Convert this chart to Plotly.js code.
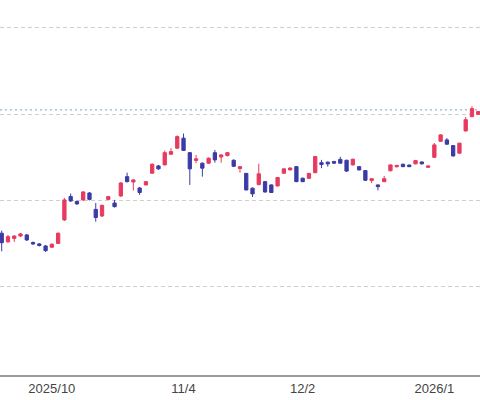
<!DOCTYPE html>
<html>
<head>
<meta charset="utf-8">
<script src="https://cdn.plot.ly/plotly-3.0.1.min.js"></script>
<style>html,body{margin:0;padding:0;background:#fff;}#chart{width:480px;height:400px;}</style>
</head>
<body>
<div id="chart"></div>
<script>
const dates = ['2025-09-19','2025-09-22','2025-09-24','2025-09-25','2025-09-26','2025-09-29','2025-09-30',
'2025-10-01','2025-10-02','2025-10-03','2025-10-06','2025-10-07','2025-10-08','2025-10-09','2025-10-10','2025-10-14','2025-10-15','2025-10-16','2025-10-17','2025-10-20','2025-10-21','2025-10-22','2025-10-23','2025-10-24','2025-10-27','2025-10-28','2025-10-29','2025-10-30','2025-10-31',
'2025-11-04','2025-11-05','2025-11-06','2025-11-07','2025-11-10','2025-11-11','2025-11-12','2025-11-13','2025-11-14','2025-11-17','2025-11-18','2025-11-19','2025-11-20','2025-11-21','2025-11-25','2025-11-26','2025-11-27','2025-11-28',
'2025-12-01','2025-12-02','2025-12-03','2025-12-04','2025-12-05','2025-12-08','2025-12-09','2025-12-10','2025-12-11','2025-12-12','2025-12-15','2025-12-16','2025-12-17','2025-12-18','2025-12-19','2025-12-22','2025-12-23','2025-12-24','2025-12-25','2025-12-26','2025-12-29','2025-12-30',
'2026-01-05','2026-01-06','2026-01-07','2026-01-08','2026-01-09','2026-01-13','2026-01-14','2026-01-15'];

const openV  = [3310,3260,3280,3294,3300,3256,3248, 3236,3229,3251,3387,3523,3494,3503,3543,3448,3410,3506,3485,3526,3638,3607,3572,3590,3658,3700,3706,3768,3803,
 3861,3777,3732,3716,3716,3777,3752,3760,3733,3685,3657,3571,3592,3609,3590,3584,3658,3677,
 3696,3629,3628,3661,3719,3722,3726,3738,3733,3706,3696,3673,3615,3590,3609,3672,3695,3710,3705,3712,3723,3692,
 3750,3843,3851,3818,3774,3903,3986,3999];
const highV  = [3325,3300,3297,3312,3306,3262,3253, 3242,3251,3314,3514,3540,3500,3555,3549,3485,3477,3526,3503,3607,3661,3622,3578,3613,3714,3706,3789,3803,3877,
 3888,3781,3764,3720,3749,3793,3767,3781,3738,3700,3659,3575,3713,3613,3593,3636,3685,3691,
 3700,3632,3659,3758,3735,3726,3729,3753,3736,3742,3700,3676,3629,3593,3642,3709,3706,3713,3708,3735,3726,3703,
 3833,3884,3861,3821,3834,3984,4046,4019];
const lowV   = [3205,3255,3260,3288,3265,3242,3233, 3201,3224,3248,3381,3491,3474,3497,3500,3377,3404,3503,3459,3520,3604,3558,3532,3587,3654,3677,3703,3764,3799,
 3787,3590,3716,3638,3712,3719,3719,3755,3694,3661,3558,3520,3587,3545,3543,3581,3654,3674,
 3606,3606,3625,3658,3687,3696,3712,3712,3665,3703,3674,3613,3600,3558,3606,3669,3692,3693,3693,3709,3709,3690,
 3746,3839,3822,3754,3770,3899,3982,3996];
const closeV = [3255,3290,3294,3306,3271,3248,3239, 3209,3246,3310,3503,3497,3480,3549,3506,3401,3471,3522,3464,3601,3609,3619,3546,3609,3710,3683,3777,3783,3870,
 3790,3683,3741,3687,3745,3735,3764,3777,3698,3696,3561,3538,3654,3549,3546,3633,3683,3688,
 3609,3609,3657,3754,3708,3712,3716,3716,3670,3739,3677,3617,3626,3580,3626,3706,3703,3696,3696,3731,3712,3700,
 3822,3880,3826,3758,3832,3968,4032,4015];

const tickDates  = ['2025-10-02','2025-11-04','2025-12-02','2026-01-05'];
const tickLabels = ['2025/10','11/4','12/2','2026/1'];
const gridLevels = [3000,3500,4000,4500];
const refLevel = 4025;

const trace = {
  type: 'candlestick',
  x: dates, open: openV, high: highV, low: lowV, close: closeV,
  increasing: {line: {color: '#e8395f', width: 1}, fillcolor: '#e8395f'},
  decreasing: {line: {color: '#3b3ba6', width: 1}, fillcolor: '#3b3ba6'},
  whiskerwidth: 0,
  hoverinfo: 'skip',
  showlegend: false
};

const layout = {
  width: 480, height: 400,
  margin: {l: 0, r: 0, t: 0, b: 25},
  paper_bgcolor: '#ffffff', plot_bgcolor: '#ffffff',
  boxgap: 0.25,
  showlegend: false,
  xaxis: {
    type: 'category',
    range: [-0.27, 76.28],
    rangeslider: {visible: false},
    tickvals: tickDates, ticktext: tickLabels,
    tickfont: {family: 'Liberation Sans, Arial, sans-serif', size: 13, color: '#444'},
    ticks: '', showgrid: false, zeroline: false,
    showline: true, linecolor: '#9a9a9a', linewidth: 2,
    fixedrange: true
  },
  yaxis: {
    range: [2488, 4662],
    tickvals: gridLevels, showticklabels: false,
    showgrid: true, gridcolor: '#cfcfcf', gridwidth: 1, griddash: '4px,3px',
    zeroline: false, showline: false, ticks: '',
    fixedrange: true
  },
  shapes: [{
    type: 'line', xref: 'paper', x0: 0, x1: 1, yref: 'y', y0: refLevel, y1: refLevel,
    line: {color: '#7d9cc9', width: 1, dash: '2px,3px'}, layer: 'below'
  }]
};

Plotly.newPlot('chart', [trace], layout, {staticPlot: true, displayModeBar: false});
</script>
</body>
</html>
